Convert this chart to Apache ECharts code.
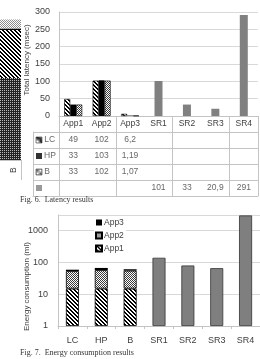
<!DOCTYPE html>
<html>
<head>
<meta charset="utf-8">
<script src="https://cdn.jsdelivr.net/npm/echarts@6/dist/echarts.min.js"></script>
<style>
  html, body { margin: 0; padding: 0; background: #fff; }
  #chart { width: 260px; height: 359px; }
</style>
</head>
<body>
<div id="chart"></div>
<script>
// ===== Fig. 6 latency (msec) =====
const latCats = ['App1', 'App2', 'App3', 'SR1', 'SR2', 'SR3', 'SR4'];
const latLC = [49, 102, 6.2, null, null, null, null];
const latHP = [33, 103, 1.19, null, null, null, null];
const latB  = [33, 102, 1.07, null, null, null, null];
const latSR = [null, null, null, 101, 33, 20.9, 291];
const tableRows = ['', 'LC', 'HP', 'B', 'SR'];

// ===== Fig. 7 energy consumption (ml) =====
const enCats = ['LC', 'HP', 'B', 'SR1', 'SR2', 'SR3', 'SR4'];
const enApp1 = [15, 15, 15, null, null, null, null];
const enApp2 = [38, 42, 40, null, null, null, null];
const enApp3 = [6, 10, 6, null, null, null, null];
const enSR   = [null, null, null, 140, 80, 66, 3000];

// ===== 左侧残留的上一张图（只剩一根堆叠柱） =====
const prevCats = ['B'];
const prevDark = [82];
const prevHatch = [48];
const prevBlack = [1.5];
const prevLight = [9];

// 小图案
function pattern(w, h, fn) {
  const c = document.createElement('canvas');
  c.width = w; c.height = h;
  const g = c.getContext('2d');
  for (let y = 0; y < h; y++) for (let x = 0; x < w; x++) {
    g.fillStyle = fn(x, y);
    g.fillRect(x, y, 1, 1);
  }
  return { image: c, repeat: 'repeat' };
}
const hatch = pattern(4, 4, (x, y) => ((x - y + 8) % 4 < 2 ? '#000' : '#fff'));
const checker = pattern(2, 2, (x, y) => ((x + y) % 2 ? '#fff' : '#3a3a3a'));
const darkChecker = pattern(2, 2, (x, y) => (x === 0 && y === 0 ? '#bbb' : '#222'));
const lightChecker = pattern(2, 2, (x, y) => ((x + y) % 2 ? '#fff' : '#8a8a8a'));

const fmt = v => String(v).replace('.', ',');
const TXT = '#404040';
const LINE = '#c4c4c4';
const FONT = 'Liberation Sans';

function cellData(rowName, vals) {
  return vals.map((v, i) => (v == null ? null : { value: [latCats[i], rowName], txt: fmt(v) })).filter(Boolean);
}

const chart = echarts.init(document.getElementById('chart'));
const option = {
  animation: false,
  textStyle: { fontFamily: FONT },
  title: [
    { text: 'Fig. 6.  Latency results', left: 20, top: 196, padding: 0,
      textStyle: { fontFamily: 'Liberation Serif', fontSize: 8, fontWeight: 'normal', color: '#333' } },
    { text: 'Fig. 7.  Energy consumption results', left: 20, top: 349, padding: 0,
      textStyle: { fontFamily: 'Liberation Serif', fontSize: 8, fontWeight: 'normal', color: '#333' } },
  ],
  legend: {
    data: ['App3', 'App2', 'App1'],
    orient: 'vertical', left: 94, top: 217,
    itemWidth: 6, itemHeight: 6, itemGap: 4,
    backgroundColor: '#fff', padding: [1, 2, 1, 1],
    textStyle: { fontSize: 8.5, color: TXT, padding: [0, 0, 0, -3] },
    icon: 'rect',
  },
  grid: [
    { left: 59, right: 2, top: 12, height: 104 },   // 0 latency plot
    { left: 59, right: 2, top: 116, height: 80 },   // 1 data table
    { left: 33, width: 26, top: 132, height: 64 },  // 2 table keys
    { left: 58, right: -2, top: 215, height: 111 }, // 3 energy plot
    { left: -21, width: 42, top: 10, height: 150 }, // 4 previous fig fragment
  ],
  xAxis: [
    { gridIndex: 0, type: 'category', data: latCats,
      axisLine: { lineStyle: { color: LINE } }, axisTick: { show: false },
      axisLabel: { fontSize: 8.5, color: TXT, margin: 3 } },
    { gridIndex: 0, type: 'category', data: latCats, show: false },
    { gridIndex: 1, type: 'category', data: latCats,
      axisLine: { lineStyle: { color: LINE } }, axisTick: { show: false }, axisLabel: { show: false },
      splitLine: { show: true, lineStyle: { color: LINE } } },
    { gridIndex: 2, type: 'category', data: [''],
      axisLine: { lineStyle: { color: LINE } }, axisTick: { show: false }, axisLabel: { show: false },
      splitLine: { show: true, lineStyle: { color: LINE } } },
    { gridIndex: 3, type: 'category', data: enCats,
      axisLine: { lineStyle: { color: LINE } },
      axisTick: { show: true, length: 3, lineStyle: { color: LINE } },
      axisLabel: { fontSize: 9, color: TXT, margin: 10 } },
    { gridIndex: 3, type: 'category', data: enCats, show: false },
    { gridIndex: 4, type: 'category', data: prevCats,
      axisLine: { lineStyle: { color: LINE } }, axisTick: { show: false }, axisLabel: { show: false } },
  ],
  yAxis: [
    { gridIndex: 0, type: 'value', min: 0, max: 300, interval: 50,
      axisLine: { show: true, lineStyle: { color: LINE } },
      splitLine: { lineStyle: { color: '#d9d9d9' } },
      axisLabel: { fontSize: 9, color: TXT, margin: 9 },
      name: 'Total latency (msec)', nameLocation: 'middle', nameGap: 28, nameMoveOverlap: false,
      nameTextStyle: { fontSize: 8, color: TXT, padding: [0, 0, 0, 8] } },
    { gridIndex: 1, type: 'category', data: tableRows, inverse: true,
      axisLine: { show: true, lineStyle: { color: LINE } }, axisTick: { show: false }, axisLabel: { show: false },
      splitLine: { show: true, lineStyle: { color: LINE } } },
    { gridIndex: 2, type: 'category', data: tableRows.slice(1), inverse: true,
      axisLine: { show: true, lineStyle: { color: LINE } }, axisTick: { show: false }, axisLabel: { show: false },
      splitLine: { show: true, lineStyle: { color: LINE } } },
    { gridIndex: 3, type: 'log', logBase: 10, min: 1, max: 3100,
      axisLine: { show: true, lineStyle: { color: LINE } },
      splitLine: { lineStyle: { color: '#d9d9d9' } },
      axisLabel: { fontSize: 9, color: TXT, margin: 10, showMaxLabel: false, formatter: v => String(Math.round(v)) },
      name: 'Energy consumption (ml)', nameLocation: 'middle', nameGap: 27, nameMoveOverlap: false,
      nameTextStyle: { fontSize: 8, color: TXT, padding: [0, 32, 0, 0] } },
    { gridIndex: 4, type: 'value', min: 0, max: 150, show: false },
  ],
  series: [
    // Fig. 6 bars
    { name: 'LC', type: 'bar', xAxisIndex: 0, yAxisIndex: 0, data: latLC, barWidth: 6, barGap: 0,
      itemStyle: { color: hatch, borderColor: '#000', borderWidth: 0.6 } },
    { name: 'HP', type: 'bar', xAxisIndex: 0, yAxisIndex: 0, data: latHP, barWidth: 6, barGap: 0,
      itemStyle: { color: '#000' } },
    { name: 'B', type: 'bar', xAxisIndex: 0, yAxisIndex: 0, data: latB, barWidth: 6, barGap: 0,
      itemStyle: { color: checker, borderColor: '#000', borderWidth: 0.6 } },
    { name: 'SR', type: 'bar', xAxisIndex: 1, yAxisIndex: 0, data: latSR, barWidth: 8,
      itemStyle: { color: '#808080' } },
    // data table cells
    ...[['LC', latLC], ['HP', latHP], ['B', latB], ['SR', latSR]].map(([row, vals]) => ({
      type: 'scatter', xAxisIndex: 2, yAxisIndex: 1, data: cellData(row, vals),
      symbolSize: 1, itemStyle: { color: 'rgba(0,0,0,0)' }, silent: true,
      label: { show: true, position: 'inside', fontSize: 8.5, color: TXT, formatter: p => p.data.txt },
    })),
    // table keys
    { type: 'scatter', xAxisIndex: 3, yAxisIndex: 2, symbol: 'rect', symbolSize: 6, symbolOffset: [-7, 0],
      silent: true,
      data: [
        { value: ['', 'LC'], name: 'LC', itemStyle: { color: hatch, borderColor: '#000', borderWidth: 0.6 } },
        { value: ['', 'HP'], name: 'HP', itemStyle: { color: '#000' } },
        { value: ['', 'B'], name: 'B', itemStyle: { color: checker, borderColor: '#000', borderWidth: 0.6 } },
        { value: ['', 'SR'], name: '', itemStyle: { color: '#808080' } },
      ],
      label: { show: true, position: 'right', distance: 2, fontSize: 8.5, color: TXT, formatter: p => p.name } },
    // Fig. 7 stacked bars
    { name: 'App1', type: 'bar', stack: 'en', xAxisIndex: 4, yAxisIndex: 3, data: enApp1, barWidth: 13,
      itemStyle: { color: hatch, borderColor: '#000', borderWidth: 0.8 } },
    { name: 'App2', type: 'bar', stack: 'en', xAxisIndex: 4, yAxisIndex: 3, data: enApp2, barWidth: 13,
      itemStyle: { color: checker, borderColor: '#000', borderWidth: 0.8 } },
    { name: 'App3', type: 'bar', stack: 'en', xAxisIndex: 4, yAxisIndex: 3, data: enApp3, barWidth: 13,
      itemStyle: { color: '#000' } },
    { name: 'SR', type: 'bar', xAxisIndex: 5, yAxisIndex: 3, data: enSR, barWidth: 13,
      itemStyle: { color: '#7f7f7f', borderColor: '#333', borderWidth: 0.8 } },
    // previous figure fragment
    { type: 'bar', stack: 'p', xAxisIndex: 6, yAxisIndex: 4, data: prevDark, barWidth: 42, itemStyle: { color: darkChecker } },
    { type: 'bar', stack: 'p', xAxisIndex: 6, yAxisIndex: 4, data: prevHatch, barWidth: 42, itemStyle: { color: hatch } },
    { type: 'bar', stack: 'p', xAxisIndex: 6, yAxisIndex: 4, data: prevBlack, barWidth: 42, itemStyle: { color: '#000' } },
    { type: 'bar', stack: 'p', xAxisIndex: 6, yAxisIndex: 4, data: prevLight, barWidth: 42, itemStyle: { color: lightChecker } },
  ],
  graphic: [
    { type: 'text', x: 9, y: 173, rotation: Math.PI / 2,
      style: { text: prevCats[0], fontSize: 8.5, fontFamily: FONT, fill: TXT } },
    { type: 'line', shape: { x1: 21.5, y1: 160, x2: 21.5, y2: 180 }, style: { stroke: LINE, lineWidth: 1 } },
  ],
};
chart.setOption(option);
</script>
</body>
</html>
